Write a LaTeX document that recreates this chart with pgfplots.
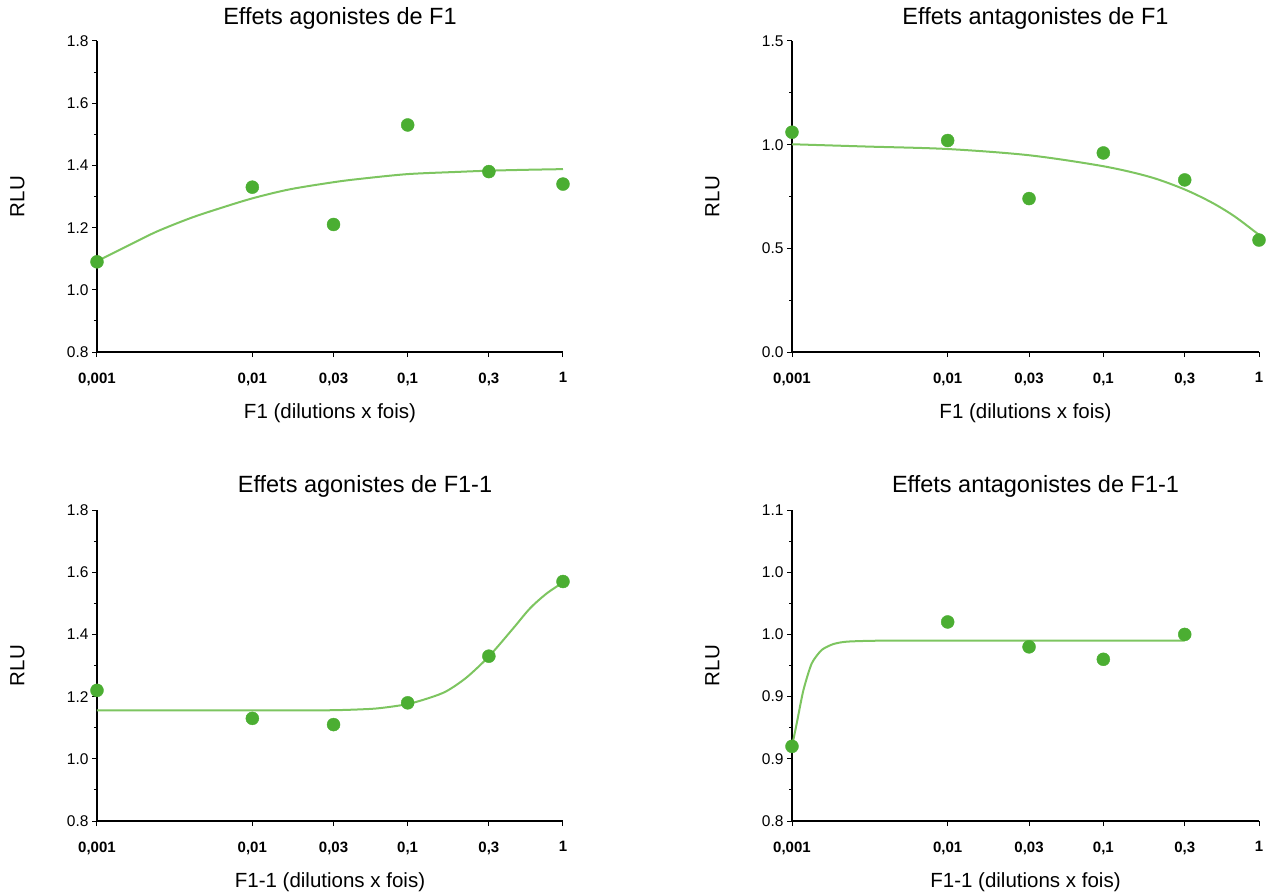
\documentclass[border=0pt]{standalone}
\usepackage{fontspec}
\setmainfont{Liberation Sans}
\usepackage{pgfplots}
\pgfplotsset{compat=1.18}
\pgfkeys{/pgf/number format/assume math mode=true}
\definecolor{mkgreen}{RGB}{75,174,50}
\definecolor{fitgreen}{RGB}{125,197,96}
\pgfplotsset{
  myax/.style={
    scale only axis, width=466pt, height=311pt,
    xmin=0.001, xmax=1,
    axis lines=left, axis line style={-, line width=1.2pt},
    clip=false,
    xtick={0.001,0.01,0.0333333,0.1,0.333333,1},
    xticklabels={{0,001},{0,01},{0,03},{0,1},{0,3},{1}},
    minor xtick={},
    xticklabel style={font=\fontsize{15}{18}\selectfont\bfseries, yshift=-12pt},
    yticklabel style={font=\fontsize{15.5}{18}\selectfont},
    tick align=outside, major tick length=5pt, minor tick length=3pt,
    tick style={black, line width=1pt},
    minor y tick num=1,
    title style={font=\fontsize{23.5}{28}\selectfont, at={(axis description cs:0.5,1)}, anchor=base, yshift=10.8pt, xshift=10pt},
    xlabel style={font=\fontsize{20.5}{24}\selectfont, at={(axis description cs:0.5,-0.2154)}, anchor=base},
    ylabel style={font=\fontsize{20.5}{24}\selectfont, at={(axis description cs:-0.1706,0.5)}, anchor=center},
    ylabel={RLU},
  },
  fitline/.style={color=fitgreen, line width=2pt, smooth, tension=0.5, no marks},
  pts/.style={only marks, mark=*, mark size=6.5pt, mark options={fill=mkgreen, draw=mkgreen}},
}
\begin{document}
\begin{tikzpicture}
\path[use as bounding box] (0,0) rectangle (1266pt,-893pt);

% Top-left
\begin{semilogxaxis}[myax, at={(97pt,-352pt)}, anchor=south west,
  ymin=0.8, ymax=1.8, ytick={0.8,1.0,1.2,1.4,1.6,1.8},
  yticklabel={\pgfmathprintnumber[fixed,fixed zerofill,precision=1]{\tick}},
  title={Effets agonistes de F1}, xlabel={F1 (dilutions x fois)}]
\addplot[fitline] coordinates {
(0.001,1.092) (0.0016,1.143) (0.00242,1.187) (0.00397,1.23) (0.006,1.26) (0.01,1.294)
(0.0174,1.323) (0.0334,1.346) (0.05,1.357) (0.1,1.372) (0.207,1.379) (0.333,1.383) (0.6,1.386) (1,1.388)};
\addplot[pts] coordinates {
(0.001,1.09) (0.01,1.33) (0.0333333,1.21) (0.1,1.53) (0.333333,1.38) (1,1.34)};
\end{semilogxaxis}

% Top-right
\begin{semilogxaxis}[myax, width=467pt, at={(792pt,-352pt)}, anchor=south west,
  ymin=0, ymax=1.5, ytick={0,0.5,1.0,1.5},
  yticklabel={\pgfmathprintnumber[fixed,fixed zerofill,precision=1]{\tick}},
  title={Effets antagonistes de F1}, xlabel={F1 (dilutions x fois)}]
\addplot[fitline] coordinates {
(0.001,1.002) (0.003,0.991) (0.01,0.979) (0.0333,0.949) (0.1,0.896) (0.2,0.844)
(0.333,0.784) (0.5,0.72) (0.7,0.653) (1,0.565)};
\addplot[pts] coordinates {
(0.001,1.06) (0.01,1.02) (0.0333333,0.74) (0.1,0.96) (0.333333,0.83) (1,0.54)};
\end{semilogxaxis}

% Bottom-left
\begin{semilogxaxis}[myax, at={(97pt,-821pt)}, anchor=south west,
  ymin=0.8, ymax=1.8, ytick={0.8,1.0,1.2,1.4,1.6,1.8},
  yticklabel={\pgfmathprintnumber[fixed,fixed zerofill,precision=1]{\tick}},
  title style={xshift=25pt, yshift=1pt},
  title={Effets agonistes de F1-1}, xlabel={F1-1 (dilutions x fois)}]
\addplot[fitline] coordinates {
(0.001,1.156) (0.01,1.156) (0.03,1.156) (0.05,1.159) (0.0664,1.163) (0.1,1.176) (0.14,1.197)
(0.1786,1.218) (0.24,1.262) (0.336,1.331) (0.479,1.42) (0.614,1.484) (0.787,1.532) (1,1.567)};
\addplot[pts] coordinates {
(0.001,1.22) (0.01,1.13) (0.0333333,1.11) (0.1,1.18) (0.333333,1.33) (1,1.57)};
\end{semilogxaxis}

% Bottom-right
\begin{semilogxaxis}[myax, width=467pt, at={(792pt,-821pt)}, anchor=south west,
  ymin=0.8, ymax=1.1, ytick={0.8,0.86,0.92,0.98,1.04,1.1},
  yticklabels={0.8,0.9,0.9,1.0,1.0,1.1},
  title style={yshift=1pt},
  title={Effets antagonistes de F1-1}, xlabel={F1-1 (dilutions x fois)}]
\addplot[color=fitgreen, line width=2pt, smooth, tension=0.4, no marks] coordinates {
(0.001,0.872) (0.001072,0.894) (0.001183,0.926) (0.001339,0.952) (0.001553,0.965)
(0.001845,0.9707) (0.002251,0.973) (0.0035,0.9739) (0.01,0.974) (0.0333,0.974) (0.1,0.974) (0.333333,0.974)};
\addplot[pts] coordinates {
(0.001,0.872) (0.01,0.992) (0.0333333,0.968) (0.1,0.956) (0.333333,0.98)};
\end{semilogxaxis}
\end{tikzpicture}
\end{document}
